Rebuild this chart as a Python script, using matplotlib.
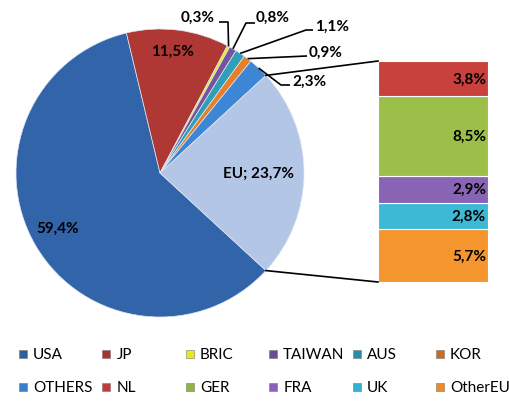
import matplotlib
matplotlib.use("Agg")
import matplotlib.pyplot as plt
from matplotlib.patches import Rectangle
import math

plt.rcParams['font.family'] = ['Lato', 'DejaVu Sans']

# data
pie_names = ['USA', 'JP', 'BRIC', 'TAIWAN', 'AUS', 'KOR', 'OTHERS', 'EU']
pie_vals = [59.4, 11.5, 0.3, 0.8, 1.1, 0.9, 2.3, 23.7]
pie_colors = ['#3264a9', '#b03834', '#e8e81a', '#7453a2', '#2f9fb8', '#e57f2a', '#3d86d6', '#b4c6e6']

eu_names = ['NL', 'GER', 'FRA', 'UK', 'OtherEU']
eu_vals = [3.8, 8.5, 2.9, 2.8, 5.7]
eu_colors = ['#c8413d', '#9cbf4a', '#8a64b4', '#3cb9d4', '#f5952e']

legend_names = ['USA', 'JP', 'BRIC', 'TAIWAN', 'AUS', 'KOR',
                'OTHERS', 'NL', 'GER', 'FRA', 'UK', 'OtherEU']
legend_colors = ['#2f5e9e', '#a83431', '#e8e81a', '#6c4c94', '#2a8ea6', '#cc6a22',
                 '#3a7fcc', '#c4393a', '#8fb444', '#8a60b8', '#33b2d0', '#ee8a26']

W, H = 510, 402
def Y(py):
    return H - py

def pct(v):
    return f"{v:.1f}".replace('.', ',') + '%'

fig = plt.figure(figsize=(5.1, 4.02), dpi=100)
ax = fig.add_axes([0, 0, 1, 1])

cx, cy, R = 160, Y(174), 144
total = sum(pie_vals)
wedges, _ = ax.pie(pie_vals, colors=pie_colors, counterclock=False,
                   startangle=-pie_vals[-1] / total * 180,
                   center=(cx, cy), radius=R,
                   wedgeprops=dict(edgecolor='#dfe6f2', linewidth=0.5))

def edge_pt(ang, r=R):
    a = math.radians(ang)
    return cx + r * math.cos(a), cy + r * math.sin(a)

lab_kw = dict(fontsize=11, fontweight='bold', color='black', va='center')

# labels inside the pie
ax.text(58, Y(229), pct(pie_vals[0]), ha='center', **lab_kw)
ax.text(172, Y(52), pct(pie_vals[1]), ha='center', **lab_kw)
ax.text(259, Y(174), 'EU; ' + pct(pie_vals[7]), ha='center', **lab_kw)

# small slices: label position + elbow points of leader line
small = {
    2: ((181, 18), [(219, 23), (228, 23)]),
    3: ((256, 18), [(255, 24), (246, 24)]),
    4: ((315, 27), [(313, 31), (306, 31)]),
    5: ((309, 53), [(307, 57)]),
    6: ((292, 82), [(290, 86), (281, 86)]),
}
for i, ((tx, ty), pts) in small.items():
    w = wedges[i]
    ex, ey = edge_pt((w.theta1 + w.theta2) / 2)
    xs = [p[0] for p in pts] + [ex]
    ys = [Y(p[1]) for p in pts] + [ey]
    ax.plot(xs, ys, color='black', lw=1.2, solid_capstyle='butt')
    ax.text(tx, Y(ty), pct(pie_vals[i]), ha='left', **lab_kw)

# stacked bar for EU breakdown
bx0, bw = 378, 110
b_top, b_bot = Y(62), Y(283)
scale = (b_top - b_bot) / sum(eu_vals)
bottom = b_bot
for name, v, c in reversed(list(zip(eu_names, eu_vals, eu_colors))):
    h = v * scale
    ax.bar(bx0 + bw / 2, h, width=bw, bottom=bottom, color=c,
           edgecolor='#ffffff', linewidth=0.8)
    ax.text(bx0 + bw - 2, bottom + h / 2, pct(v), ha='right', **lab_kw)
    bottom += h

# connector lines from EU wedge to bar
w_eu = wedges[-1]
ux, uy = edge_pt(w_eu.theta2)
lx, ly = edge_pt(w_eu.theta1)
ax.plot([ux, bx0], [uy, b_top], color='black', lw=1.2)
ax.plot([lx, bx0], [ly, b_bot], color='black', lw=1.2)

# legend as a grid, row by row
for i, (name, c) in enumerate(zip(legend_names, legend_colors)):
    row, col = divmod(i, 6)
    mx = 19 + col * 83.4
    my = Y(355 + row * 33)
    ax.add_patch(Rectangle((mx, my - 4), 8, 8, facecolor=c, edgecolor='#777777', lw=0.4))
    ax.text(mx + 14, my, name, fontsize=11, va='center', ha='left', color='black')

ax.set_xlim(0, W)
ax.set_ylim(0, H)
ax.set_aspect('equal')
ax.axis('off')

fig.savefig('out.png', dpi=100)
